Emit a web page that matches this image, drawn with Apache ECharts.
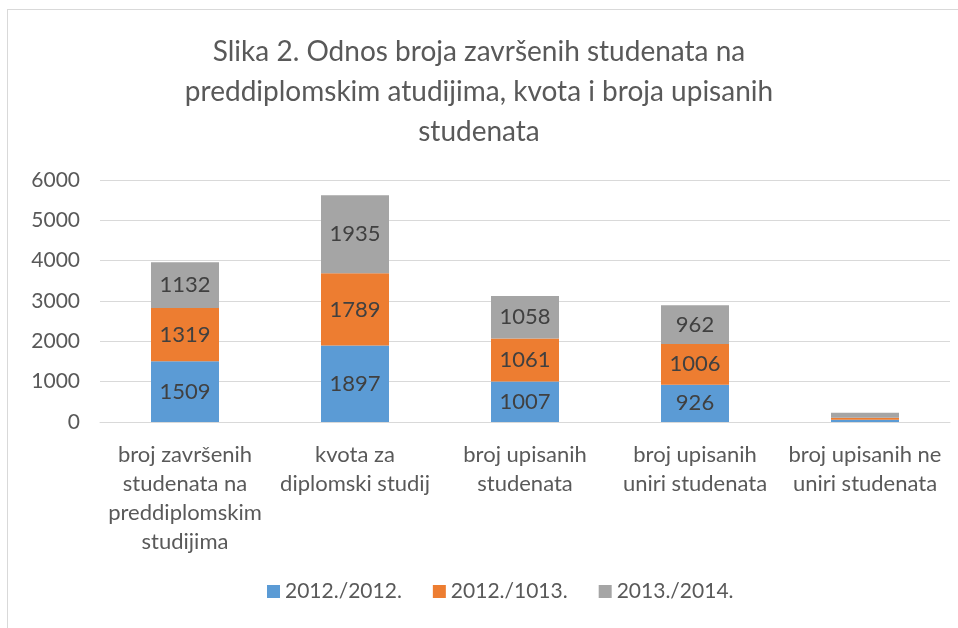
<!DOCTYPE html>
<html>
<head>
<meta charset="utf-8">
<script src="https://cdn.jsdelivr.net/npm/echarts@6/dist/echarts.min.js"></script>
<style>
  html, body { margin: 0; padding: 0; background: #fff; }
  .frame {
    position: absolute; left: 7px; top: 9px; width: 960px; height: 640px;
    border-left: 1px solid #d9d9d9; border-top: 1px solid #d9d9d9;
  }
  #chart { position: absolute; left: 0; top: 0; width: 958px; height: 628px; }
</style>
</head>
<body>
<div class="frame"></div>
<div id="chart"></div>
<script>
const categories = [
  'broj završenih\nstudenata na\npreddiplomskim\nstudijima',
  'kvota za\ndiplomski studij',
  'broj upisanih\nstudenata',
  'broj upisanih\nuniri studenata',
  'broj upisanih ne\nuniri studenata'
]
const seriesNames = ['2012./2012.', '2012./1013.', '2013./2014.']
const values2012 = [1509, 1897, 1007, 926, 55]
const values1013 = [1319, 1789, 1061, 1006, 50]
const values2014 = [1132, 1935, 1058, 962, 125]
const yTicks = [0, 1000, 2000, 3000, 4000, 5000, 6000]

const font = 'Lato, "Open Sans", sans-serif'
const colors = ['#5b9bd5', '#ed7d31', '#a5a5a5']

const myChart = echarts.init(document.getElementById('chart'))

function makeSeries(name, data) {
  return {
    name: name,
    type: 'bar',
    stack: 'total',
    barWidth: '40%',
    data: data,
    label: {
      show: true,
      position: 'inside',
      color: '#404040',
      fontFamily: font,
      fontSize: 22,
      formatter: (p) => p.value >= 200 ? String(p.value) : ''
    }
  }
}

const option = {
  animation: false,
  color: colors,
  title: {
    text: 'Slika 2. Odnos broja završenih studenata na\npreddiplomskim atudijima, kvota i broja upisanih\nstudenata',
    left: 'center',
    top: 27,
    textStyle: {
      color: '#595959',
      fontFamily: font,
      fontSize: 28,
      fontWeight: 'normal',
      lineHeight: 40
    }
  },
  legend: {
    bottom: 21,
    left: 262,
    itemWidth: 13,
    itemHeight: 13,
    itemGap: 31,
    itemTextGap: 7,
    icon: 'rect',
    textStyle: { color: '#595959', fontFamily: font, fontSize: 21 },
    data: seriesNames
  },
  grid: {
    left: 100,
    right: 8,
    top: 180,
    bottom: 206
  },
  xAxis: {
    type: 'category',
    data: categories,
    axisLine: { lineStyle: { color: '#d9d9d9', width: 1 } },
    axisTick: { show: false },
    axisLabel: {
      color: '#595959',
      fontFamily: font,
      fontSize: 22,
      lineHeight: 29,
      margin: 18,
      interval: 0
    }
  },
  yAxis: {
    type: 'value',
    min: yTicks[0],
    max: yTicks[yTicks.length - 1],
    interval: 1000,
    axisLine: { show: false },
    axisTick: { show: false },
    splitLine: { lineStyle: { color: '#d9d9d9' } },
    axisLabel: {
      color: '#595959',
      fontFamily: font,
      fontSize: 21,
      margin: 20,
      formatter: (v) => String(v)
    }
  },
  series: [
    makeSeries(seriesNames[0], values2012),
    makeSeries(seriesNames[1], values1013),
    makeSeries(seriesNames[2], values2014)
  ]
}

myChart.setOption(option)
</script>
</body>
</html>
